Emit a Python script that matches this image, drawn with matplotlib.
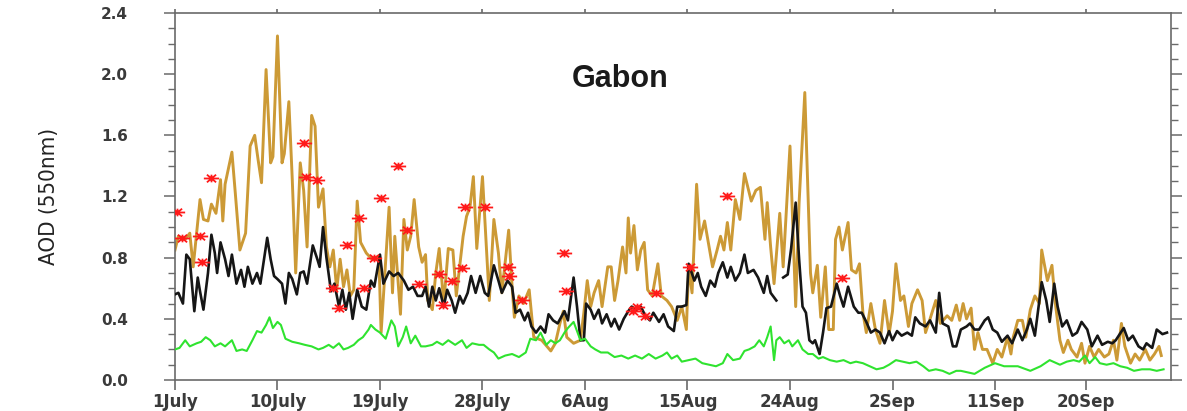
#Gabon AOD time series (Jul-Sep)

import numpy as np
import matplotlib
matplotlib.use('Agg')
import matplotlib.pyplot as plt
from matplotlib.path import Path
from matplotlib.ticker import MultipleLocator, FixedLocator

OUT_PATH = 'out.png'

# days since 1 July
GOLD_DAY = [0.0, 0.3, 0.9, 1.3, 1.6, 2.2, 2.5, 2.9, 3.2, 3.6, 4.0, 4.2, 4.4, 5.0, 5.3, 5.7, 6.2, 6.6, 7.0, 7.3,
            7.6, 8.0, 8.4, 8.6, 9.0, 9.4, 9.6, 10.0, 10.3, 10.6, 11.0, 11.3, 11.6, 12.0, 12.3, 12.6, 13.0, 13.3, 13.6, 13.9,
            14.2, 14.5, 14.8, 15.1, 15.4, 15.7, 16.0, 16.3, 16.8, 17.3, 17.9, 18.1, 18.4, 18.8, 19.1, 19.3, 19.8, 20.1, 20.4, 20.7,
            21.0, 21.4, 21.7, 22.0, 22.2, 22.6, 22.9, 23.2, 23.6, 24.0, 24.4, 24.7, 25.3, 25.6, 25.9, 26.2, 26.5, 27.0, 27.3, 27.6,
            28.0, 28.4, 28.7, 29.3, 29.6, 29.8, 30.2, 30.6, 31.1, 31.5, 32.2, 33.0, 33.4, 33.8, 34.1, 34.4, 35.0, 35.6, 35.9, 36.2,
            36.5, 36.8, 37.2, 37.5, 38.0, 38.3, 38.6, 38.9, 39.3, 39.6, 39.8, 40.0, 40.3, 40.6, 40.9, 41.2, 41.5, 41.9, 42.4, 42.7,
            43.2, 43.6, 44.1, 44.5, 44.9, 45.1, 45.4, 45.8, 46.1, 46.5, 46.9, 47.2, 47.6, 47.9, 48.2, 48.5, 48.8, 49.2, 49.6, 50.0,
            50.6, 51.0, 51.4, 51.8, 52.0, 52.3, 52.6, 53.1, 53.4, 54.0, 54.5, 54.8, 55.3, 55.8, 56.0, 56.4, 56.7, 57.1, 57.4, 57.8,
            58.0, 58.3, 58.6, 59.1, 59.4, 59.8, 60.1, 60.4, 60.7, 61.1, 61.5, 61.9, 62.3, 62.7, 63.0, 63.3, 63.7, 64.0, 64.4, 64.7,
            65.2, 65.6, 65.9, 66.3, 66.8, 67.2, 67.8, 68.2, 68.6, 68.9, 69.2, 69.5, 69.9, 70.2, 70.5, 70.9, 71.3, 71.8, 72.2, 72.6,
            73.1, 73.4, 73.6, 74.0, 74.4, 74.7, 75.1, 75.5, 75.9, 76.1, 76.6, 77.0, 77.3, 77.7, 78.0, 78.4, 78.7, 79.2, 79.6, 79.9,
            80.3, 80.7, 81.1, 81.6, 82.0, 82.4, 82.7, 83.1, 83.4, 83.9, 84.3, 84.7, 85.2, 85.6, 86.0, 86.4, 86.6]
GOLD_AOD = [0.85, 0.94, 0.92, 0.96, 0.74, 1.18, 1.05, 1.04, 1.15, 1.09, 1.31, 1.04, 1.28, 1.49, 1.22, 0.85, 0.96, 1.53, 1.60, 1.44,
            1.29, 2.03, 1.42, 1.46, 2.25, 1.42, 1.48, 1.82, 1.31, 0.70, 1.42, 1.24, 0.87, 1.73, 1.66, 1.13, 1.25, 0.87, 0.74, 0.85,
            0.59, 0.79, 0.61, 0.72, 0.55, 0.59, 1.17, 0.90, 0.83, 0.79, 0.81, 0.31, 0.66, 1.13, 0.57, 0.94, 0.43, 1.05, 0.85, 0.94,
            1.18, 0.87, 0.77, 0.82, 0.52, 0.46, 0.70, 0.86, 0.50, 0.86, 0.85, 0.55, 0.94, 1.07, 1.13, 1.33, 0.86, 1.33, 0.92, 0.52,
            1.05, 0.83, 0.57, 0.98, 0.61, 0.41, 0.55, 0.50, 0.59, 0.28, 0.26, 0.19, 0.24, 0.37, 0.45, 0.28, 0.24, 0.26, 0.44, 0.65,
            0.48, 0.57, 0.65, 0.48, 0.74, 0.74, 0.52, 0.65, 0.87, 0.70, 1.06, 0.83, 1.01, 0.72, 0.85, 0.90, 0.59, 0.55, 0.76, 0.55,
            0.52, 0.48, 0.39, 0.48, 0.33, 0.74, 0.57, 1.28, 0.92, 1.04, 0.87, 0.74, 0.85, 0.94, 0.85, 1.03, 0.85, 1.18, 1.05, 1.35,
            1.17, 1.24, 1.26, 0.92, 1.16, 0.87, 0.63, 1.09, 0.74, 1.53, 0.48, 1.16, 1.88, 0.70, 0.57, 0.75, 0.41, 0.74, 0.33, 0.33,
            0.92, 1.00, 0.85, 1.03, 0.72, 0.70, 0.76, 0.44, 0.31, 0.50, 0.33, 0.24, 0.52, 0.30, 0.45, 0.76, 0.52, 0.55, 0.35, 0.50,
            0.59, 0.52, 0.31, 0.40, 0.52, 0.37, 0.42, 0.39, 0.49, 0.39, 0.50, 0.40, 0.47, 0.20, 0.31, 0.20, 0.20, 0.11, 0.20, 0.15,
            0.28, 0.17, 0.28, 0.39, 0.39, 0.28, 0.46, 0.55, 0.50, 0.85, 0.65, 0.75, 0.50, 0.26, 0.18, 0.26, 0.20, 0.15, 0.24, 0.11,
            0.22, 0.15, 0.20, 0.15, 0.17, 0.26, 0.13, 0.37, 0.22, 0.11, 0.17, 0.13, 0.20, 0.13, 0.17, 0.22, 0.16]

BLACK_DAY = [0.0, 0.3, 0.7, 1.0, 1.3, 1.7, 2.0, 2.2, 2.5, 2.9, 3.2, 3.5, 3.7, 4.0, 4.4, 4.7, 5.0, 5.4, 5.8, 6.1,
             6.4, 6.8, 7.2, 7.5, 8.1, 8.4, 8.7, 9.0, 9.4, 9.7, 10.0, 10.3, 10.7, 11.0, 11.3, 11.6, 12.1, 12.5, 12.7, 13.0,
             13.3, 13.7, 14.0, 14.4, 14.7, 15.0, 15.3, 15.6, 16.0, 16.4, 16.8, 17.2, 17.5, 18.0, 18.3, 18.8, 19.2, 19.6, 20.1, 20.5,
             20.9, 21.3, 21.7, 22.0, 22.3, 22.6, 22.9, 23.2, 23.6, 23.9, 24.3, 24.6, 25.0, 25.3, 25.7, 26.0, 26.4, 26.8, 27.2, 27.5,
             28.0, 28.4, 28.7, 29.2, 29.6, 29.9, 30.3, 30.7, 31.0, 31.3, 31.7, 32.1, 32.5, 32.8, 33.2, 33.6, 34.2, 34.5, 35.0, 35.3,
             35.6, 35.9, 36.1, 36.5, 36.8, 37.2, 37.5, 37.9, 38.3, 38.6, 39.0, 39.4, 39.8, 40.1, 40.5, 40.9, 41.3, 41.7, 42.0, 42.5,
             42.9, 43.3, 43.8, 44.1, 44.5, 44.9, 45.1, 45.6, 45.9, 46.2, 46.6, 47.0, 47.4, 47.7, 48.1, 48.5, 48.8, 49.2, 49.6, 50.0,
             50.3, 50.8, 51.2, 51.7, 52.0, 52.3, 52.8, 53.05, 53.4, 53.8, 54.1, 54.5, 54.8, 55.1, 55.4, 55.7, 56.0, 56.2, 56.6, 56.9,
             57.2, 57.6, 58.1, 58.4, 58.7, 59.1, 59.6, 60.0, 60.3, 60.7, 61.1, 61.5, 61.9, 62.3, 62.7, 63.0, 63.4, 63.8, 64.3, 64.7,
             65.0, 65.4, 65.9, 66.3, 66.8, 67.1, 67.4, 67.9, 68.3, 68.6, 69.0, 69.5, 69.8, 70.2, 70.6, 71.1, 71.4, 71.8, 72.2, 72.6,
             73.1, 73.5, 74.0, 74.4, 74.8, 75.1, 75.5, 76.1, 76.5, 76.8, 77.2, 77.5, 77.9, 78.3, 78.8, 79.2, 79.6, 80.1, 80.5, 81.0,
             81.4, 81.9, 82.3, 82.6, 83.3, 83.7, 84.1, 84.6, 85.0, 85.3, 85.8, 86.2, 86.7, 87.1]
BLACK_AOD = [0.56, 0.57, 0.50, 0.82, 0.79, 0.45, 0.67, 0.58, 0.46, 0.70, 0.95, 0.83, 0.70, 0.90, 0.79, 0.68, 0.82, 0.63, 0.72, 0.61,
             0.74, 0.63, 0.70, 0.63, 0.93, 0.79, 0.68, 0.66, 0.63, 0.50, 0.70, 0.66, 0.56, 0.70, 0.71, 0.63, 0.88, 0.79, 0.74, 1.00,
             0.80, 0.58, 0.63, 0.48, 0.59, 0.46, 0.57, 0.40, 0.59, 0.48, 0.46, 0.65, 0.61, 0.82, 0.63, 0.71, 0.68, 0.70, 0.65, 0.59,
             0.61, 0.55, 0.55, 0.61, 0.48, 0.61, 0.52, 0.60, 0.48, 0.59, 0.52, 0.44, 0.55, 0.50, 0.57, 0.68, 0.57, 0.68, 0.57, 0.55,
             0.75, 0.65, 0.57, 0.65, 0.61, 0.44, 0.46, 0.39, 0.44, 0.35, 0.31, 0.35, 0.31, 0.43, 0.39, 0.37, 0.45, 0.39, 0.67, 0.48,
             0.26, 0.26, 0.50, 0.46, 0.40, 0.46, 0.37, 0.43, 0.35, 0.40, 0.33, 0.40, 0.45, 0.48, 0.46, 0.48, 0.42, 0.39, 0.44, 0.38,
             0.43, 0.35, 0.32, 0.48, 0.48, 0.49, 0.76, 0.65, 0.70, 0.61, 0.55, 0.65, 0.61, 0.70, 0.77, 0.67, 0.74, 0.65, 0.70, 0.82,
             0.70, 0.72, 0.67, 0.57, 0.68, 0.57, 0.52, np.nan, 0.67, 0.69, 0.86, 1.16, 0.79, 0.48, 0.44, 0.26, 0.24, 0.26, 0.17, 0.31,
             0.47, 0.48, 0.63, 0.55, 0.48, 0.61, 0.48, 0.44, 0.44, 0.38, 0.31, 0.33, 0.31, 0.24, 0.32, 0.26, 0.32, 0.29, 0.31, 0.29,
             0.41, 0.37, 0.35, 0.39, 0.31, 0.57, 0.37, 0.35, 0.22, 0.22, 0.33, 0.35, 0.37, 0.33, 0.33, 0.39, 0.41, 0.33, 0.31, 0.25,
             0.29, 0.24, 0.33, 0.26, 0.33, 0.40, 0.29, 0.64, 0.52, 0.38, 0.63, 0.48, 0.35, 0.39, 0.29, 0.31, 0.38, 0.33, 0.22, 0.29,
             0.23, 0.25, 0.24, 0.26, 0.34, 0.26, 0.29, 0.22, 0.20, 0.24, 0.21, 0.33, 0.30, 0.31]

GREEN_DAY = [0.0, 0.4, 0.9, 1.3, 1.9, 2.3, 2.7, 3.1, 3.5, 4.0, 4.4, 5.0, 5.4, 5.9, 6.3, 6.8, 7.2, 7.6, 8.0, 8.3,
             8.6, 9.0, 9.3, 9.7, 10.3, 10.9, 11.4, 12.0, 12.6, 13.0, 13.5, 13.9, 14.4, 14.8, 15.2, 15.7, 16.1, 16.5, 17.0, 17.2,
             17.6, 18.0, 18.5, 19.0, 19.3, 19.6, 20.0, 20.3, 20.7, 21.1, 21.6, 22.0, 22.6, 23.0, 23.5, 24.0, 24.6, 25.2, 25.6, 26.1,
             26.7, 27.1, 27.6, 28.0, 28.4, 29.0, 29.6, 30.2, 30.8, 31.2, 31.7, 32.1, 32.6, 33.0, 33.4, 33.8, 34.2, 34.5, 35.0, 35.3,
             35.6, 36.0, 36.5, 36.9, 37.4, 38.0, 38.6, 39.2, 39.8, 40.4, 41.0, 41.6, 42.2, 42.8, 43.2, 43.6, 44.1, 44.5, 45.1, 45.7,
             46.3, 46.9, 47.5, 48.1, 48.5, 49.0, 49.6, 50.0, 50.4, 50.9, 51.3, 51.7, 52.0, 52.3, 52.6, 52.8, 53.1, 53.5, 53.9, 54.2,
             54.7, 55.1, 55.6, 56.0, 56.5, 56.9, 57.5, 58.1, 58.7, 59.3, 59.8, 60.4, 61.0, 61.6, 62.2, 62.7, 63.3, 63.9, 64.5, 65.1,
             65.7, 66.2, 66.8, 67.4, 68.0, 68.6, 69.0, 69.6, 70.2, 71.1, 72.0, 72.8, 74.0, 75.1, 76.0, 76.8, 77.7, 78.3, 78.9, 79.4,
             79.9, 80.3, 80.8, 81.2, 81.8, 82.4, 83.0, 83.6, 84.2, 84.9, 85.6, 86.2, 86.8]
GREEN_AOD = [0.20, 0.21, 0.26, 0.22, 0.24, 0.25, 0.28, 0.26, 0.22, 0.24, 0.22, 0.26, 0.19, 0.20, 0.19, 0.26, 0.32, 0.31, 0.36, 0.41,
             0.34, 0.38, 0.36, 0.27, 0.25, 0.24, 0.23, 0.22, 0.20, 0.21, 0.23, 0.21, 0.24, 0.20, 0.21, 0.23, 0.26, 0.28, 0.33, 0.36,
             0.33, 0.31, 0.27, 0.39, 0.35, 0.22, 0.28, 0.35, 0.24, 0.29, 0.22, 0.22, 0.23, 0.25, 0.23, 0.26, 0.23, 0.26, 0.21, 0.24,
             0.23, 0.23, 0.20, 0.18, 0.14, 0.16, 0.17, 0.15, 0.18, 0.27, 0.26, 0.31, 0.23, 0.26, 0.24, 0.26, 0.31, 0.34, 0.38, 0.32,
             0.26, 0.27, 0.22, 0.20, 0.18, 0.18, 0.15, 0.16, 0.14, 0.16, 0.14, 0.17, 0.14, 0.16, 0.18, 0.14, 0.16, 0.12, 0.13, 0.14,
             0.11, 0.10, 0.09, 0.11, 0.17, 0.13, 0.14, 0.19, 0.20, 0.22, 0.26, 0.22, 0.28, 0.35, 0.13, 0.26, 0.28, 0.24, 0.26, 0.22,
             0.26, 0.20, 0.17, 0.17, 0.14, 0.15, 0.13, 0.12, 0.13, 0.11, 0.12, 0.11, 0.09, 0.07, 0.08, 0.10, 0.13, 0.12, 0.11, 0.12,
             0.09, 0.06, 0.07, 0.06, 0.04, 0.06, 0.06, 0.05, 0.04, 0.08, 0.11, 0.09, 0.09, 0.06, 0.09, 0.13, 0.10, 0.12, 0.13, 0.12,
             0.16, 0.11, 0.15, 0.11, 0.10, 0.11, 0.09, 0.08, 0.06, 0.07, 0.07, 0.06, 0.07]

OBS_DAY = [0.15, 0.6, 2.2, 2.35, 3.2, 11.3, 11.5, 12.5, 13.9, 14.4, 15.1, 16.2, 16.6, 17.5, 18.1, 19.6, 20.4, 21.4,
           23.2, 23.5, 24.3, 25.2, 25.5, 27.2, 29.2, 29.3, 30.5, 34.2, 34.3, 40.2, 40.6, 41.3, 42.2, 45.2, 48.5, 58.6]
OBS_AOD = [1.10, 0.93, 0.94, 0.77, 1.32, 1.55, 1.33, 1.31, 0.60, 0.47, 0.88, 1.06, 0.60, 0.80, 1.19, 1.40, 0.98, 0.63,
           0.69, 0.49, 0.65, 0.73, 1.13, 1.13, 0.74, 0.68, 0.52, 0.83, 0.58, 0.45, 0.48, 0.42, 0.57, 0.74, 1.20, 0.67]

TICK_DAYS = [0, 9, 18, 27, 36, 45, 54, 63, 72, 80]
TICK_LABELS = ['1July', '10July', '19July', '28July', '6Aug', '15Aug', '24Aug', '2Sep', '11Sep', '20Sep']

#flattened asterisk like the NCL marker
STAR = Path([(-1, 0), (1, 0), (-0.6, -0.5), (0.6, 0.5), (-0.6, 0.5), (0.6, -0.5), (0, -0.5), (0, 0.5)],
            [Path.MOVETO, Path.LINETO] * 4)


def main():
    fig = plt.figure(figsize=(11.87, 4.11), dpi=100)
    ax = fig.add_axes([0.1474, 0.0754, 0.8391, 0.893])

    ax.plot(GOLD_DAY, GOLD_AOD, color='#cc9a36', lw=2.1, zorder=2)
    ax.plot(BLACK_DAY, BLACK_AOD, color='#161616', lw=1.9, zorder=3)
    ax.plot(GREEN_DAY, GREEN_AOD, color='#2fe32f', lw=1.5, zorder=3)
    ax.plot(OBS_DAY, OBS_AOD, ls='none', marker=STAR, ms=11, mew=1.3,
            mec='#ff1a1a', mfc='none', zorder=4)

    ax.set_xlim(0, 87.45)
    ax.set_ylim(0, 2.4)
    ax.xaxis.set_major_locator(FixedLocator(TICK_DAYS))
    ax.set_xticklabels(TICK_LABELS)
    ax.yaxis.set_major_locator(MultipleLocator(0.4))
    ax.yaxis.set_minor_locator(MultipleLocator(0.1))
    ax.yaxis.set_major_formatter(plt.FormatStrFormatter('%.1f'))

    for sp in ax.spines.values():
        sp.set_color('#6a6a6a')
        sp.set_linewidth(1.2)

    ax.tick_params(axis='y', which='major', direction='out', length=8, width=1.1,
                   color='#6a6a6a', right=True, pad=26, labelsize=11, labelcolor='#3a3a3a')
    ax.tick_params(axis='y', which='minor', direction='out', length=5, width=1.0,
                   color='#6a6a6a', right=True)
    ax.tick_params(axis='x', which='major', direction='out', length=7, width=1.2,
                   color='#6a6a6a', pad=2, labelsize=12, labelcolor='#3a3a3a')
    for lab in ax.get_xticklabels() + ax.get_yticklabels():
        lab.set_fontweight('bold')

    top = ax.secondary_xaxis('top')
    top.set_xticks(TICK_DAYS)
    top.set_xticklabels([])
    top.tick_params(length=3, width=1.2, color='#6a6a6a')
    top.spines['top'].set_visible(False)

    ax.set_ylabel('AOD (550nm)', family='DejaVu Sans', fontstretch='condensed', fontsize=16,
                  color='#222222', labelpad=30)
    ax.text(0.447, 0.821, 'Gabon', transform=ax.transAxes, ha='center', va='center',
            family='Liberation Sans', fontsize=22, fontweight='bold', color='#1a1a1a')

    fig.savefig(OUT_PATH, dpi=100)
    plt.close(fig)


if __name__ == '__main__':
    main()
